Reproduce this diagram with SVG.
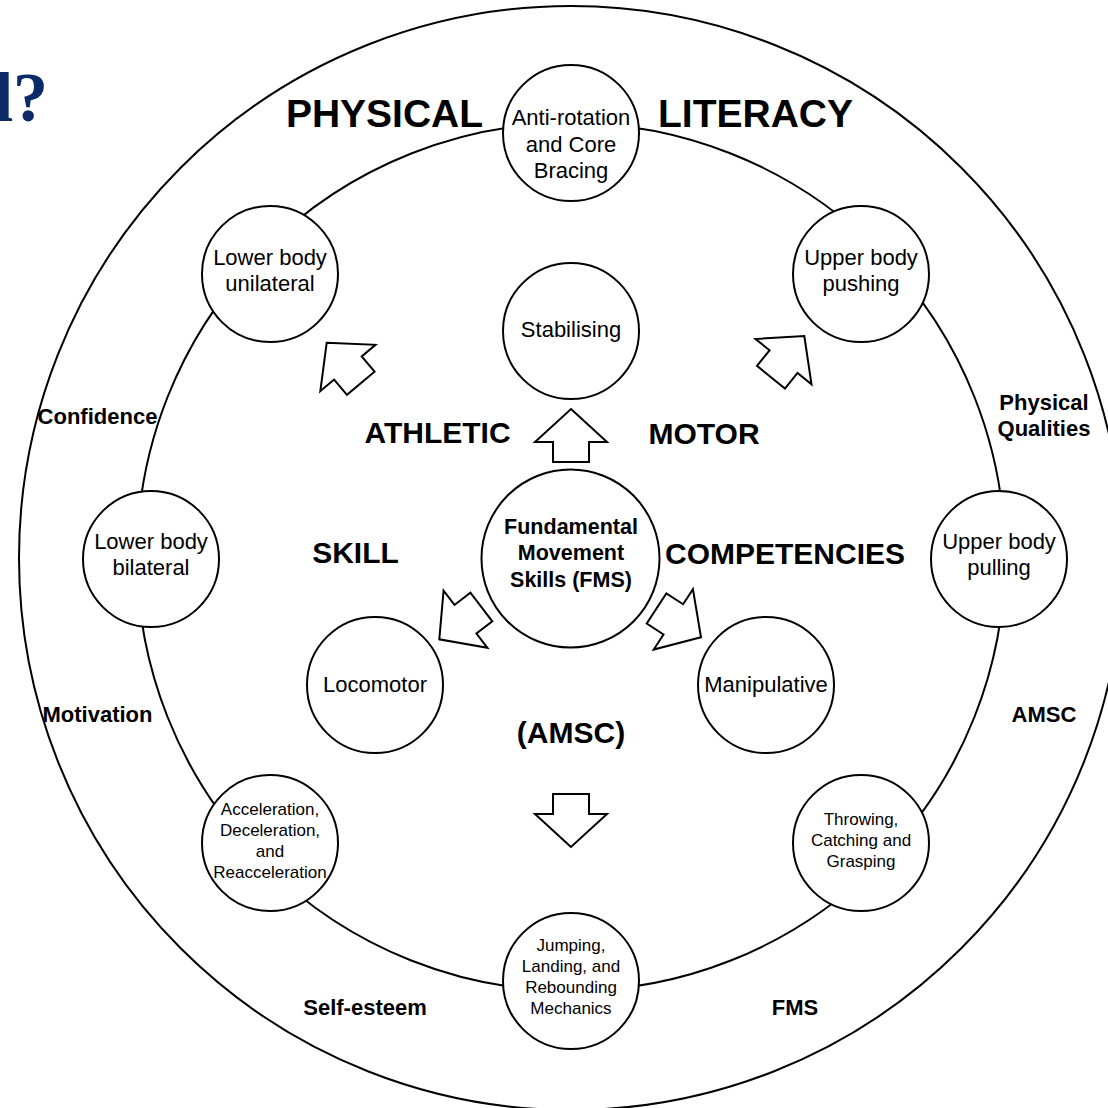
<svg xmlns="http://www.w3.org/2000/svg" width="1108" height="1108" viewBox="0 0 1108 1108">
  <defs>
    <style>
      .ring { fill: none; stroke: #000; stroke-width: 2; }
      .node circle { fill: #fff; stroke: #000; stroke-width: 2; }
      .arrow { fill: #fff; stroke: #000; stroke-width: 2; stroke-linejoin: miter; }
      text { font-family: "Liberation Sans", Arial, sans-serif; fill: #000; text-anchor: middle; }
      .t22 { font-size: 22px; }
      .t17 { font-size: 17px; }
      .core { font-size: 21.5px; font-weight: bold; }
      .title { font-size: 39px; font-weight: bold; }
      .band { font-size: 30px; font-weight: bold; }
      .side { font-size: 22px; font-weight: bold; }
      .heading { font-family: "Liberation Serif", "Times New Roman", serif; font-size: 70px; font-weight: bold; fill: #0d2a68; text-anchor: end; }
    </style>
    <!-- block arrow, tip at origin, pointing up -->
    <path id="blockArrow" d="M0,0 L36,33 L18,33 L18,53 L-18,53 L-18,33 L-36,33 Z"/>
  </defs>

  <rect width="1108" height="1108" fill="#fff"/>

  <!-- slide heading remnant -->
  <text class="heading" x="48" y="121">d?</text>

  <!-- outer and inner rings -->
  <g id="rings">
    <circle class="ring" cx="571" cy="558" r="552"/>
    <circle class="ring" cx="571" cy="557" r="434"/>
  </g>

  <!-- block arrows from the core outwards -->
  <g id="connectors">
    <use href="#blockArrow" class="arrow" transform="translate(571,409)"/>
    <use href="#blockArrow" class="arrow" transform="translate(571,847) rotate(180)"/>
    <use href="#blockArrow" class="arrow" transform="translate(326.7,342.7) rotate(-40)"/>
    <use href="#blockArrow" class="arrow" transform="translate(804.3,336) rotate(39)"/>
    <use href="#blockArrow" class="arrow" transform="translate(439.3,639.3) rotate(-127.5)"/>
    <use href="#blockArrow" class="arrow" transform="translate(701,637.3) rotate(123)"/>
  </g>

  <!-- ring nodes -->
  <g id="node-anti-rotation" class="node">
    <circle cx="571" cy="133" r="68"/>
    <text class="t22" x="571" y="125">Anti-rotation</text>
    <text class="t22" x="571" y="152">and Core</text>
    <text class="t22" x="571" y="178">Bracing</text>
  </g>
  <g id="node-upper-push" class="node">
    <circle cx="861" cy="274" r="68"/>
    <text class="t22" x="861" y="265">Upper body</text>
    <text class="t22" x="861" y="291">pushing</text>
  </g>
  <g id="node-upper-pull" class="node">
    <circle cx="999" cy="559" r="68"/>
    <text class="t22" x="999" y="549">Upper body</text>
    <text class="t22" x="999" y="575">pulling</text>
  </g>
  <g id="node-throwing" class="node">
    <circle cx="861" cy="843" r="68"/>
    <text class="t17" x="861" y="825">Throwing,</text>
    <text class="t17" x="861" y="846">Catching and</text>
    <text class="t17" x="861" y="867">Grasping</text>
  </g>
  <g id="node-jumping" class="node">
    <circle cx="571" cy="981" r="68"/>
    <text class="t17" x="571" y="951">Jumping,</text>
    <text class="t17" x="571" y="972">Landing, and</text>
    <text class="t17" x="571" y="993">Rebounding</text>
    <text class="t17" x="571" y="1014">Mechanics</text>
  </g>
  <g id="node-acceleration" class="node">
    <circle cx="270" cy="843" r="68"/>
    <text class="t17" x="270" y="815">Acceleration,</text>
    <text class="t17" x="270" y="836">Deceleration,</text>
    <text class="t17" x="270" y="857">and</text>
    <text class="t17" x="270" y="878">Reacceleration</text>
  </g>
  <g id="node-lower-bilateral" class="node">
    <circle cx="151" cy="559" r="68"/>
    <text class="t22" x="151" y="549">Lower body</text>
    <text class="t22" x="151" y="575">bilateral</text>
  </g>
  <g id="node-lower-unilateral" class="node">
    <circle cx="270" cy="274" r="68"/>
    <text class="t22" x="270" y="265">Lower body</text>
    <text class="t22" x="270" y="291">unilateral</text>
  </g>

  <!-- inner nodes -->
  <g id="node-stabilising" class="node">
    <circle cx="571" cy="331" r="68"/>
    <text class="t22" x="571" y="337">Stabilising</text>
  </g>
  <g id="node-fms" class="node">
    <circle cx="570.5" cy="558.5" r="89"/>
    <text class="core" x="571" y="534">Fundamental</text>
    <text class="core" x="571" y="560">Movement</text>
    <text class="core" x="571" y="587">Skills (FMS)</text>
  </g>
  <g id="node-locomotor" class="node">
    <circle cx="375" cy="685" r="68"/>
    <text class="t22" x="375" y="692">Locomotor</text>
  </g>
  <g id="node-manipulative" class="node">
    <circle cx="766" cy="685" r="68"/>
    <text class="t22" x="766" y="692">Manipulative</text>
  </g>

  <!-- ring titles -->
  <g id="labels">
    <text class="title" x="384.5" y="127">PHYSICAL</text>
    <text class="title" x="755.5" y="127">LITERACY</text>
    <text class="band" x="437.5" y="443">ATHLETIC</text>
    <text class="band" x="704" y="444">MOTOR</text>
    <text class="band" x="355.5" y="563">SKILL</text>
    <text class="band" x="785" y="564">COMPETENCIES</text>
    <text class="band" x="571" y="743">(AMSC)</text>
    <text class="side" x="97.5" y="424">Confidence</text>
    <text class="side" x="1044" y="410">Physical</text>
    <text class="side" x="1044" y="436">Qualities</text>
    <text class="side" x="97.5" y="722">Motivation</text>
    <text class="side" x="1044" y="722">AMSC</text>
    <text class="side" x="365" y="1015">Self-esteem</text>
    <text class="side" x="795" y="1015">FMS</text>
  </g>
</svg>
